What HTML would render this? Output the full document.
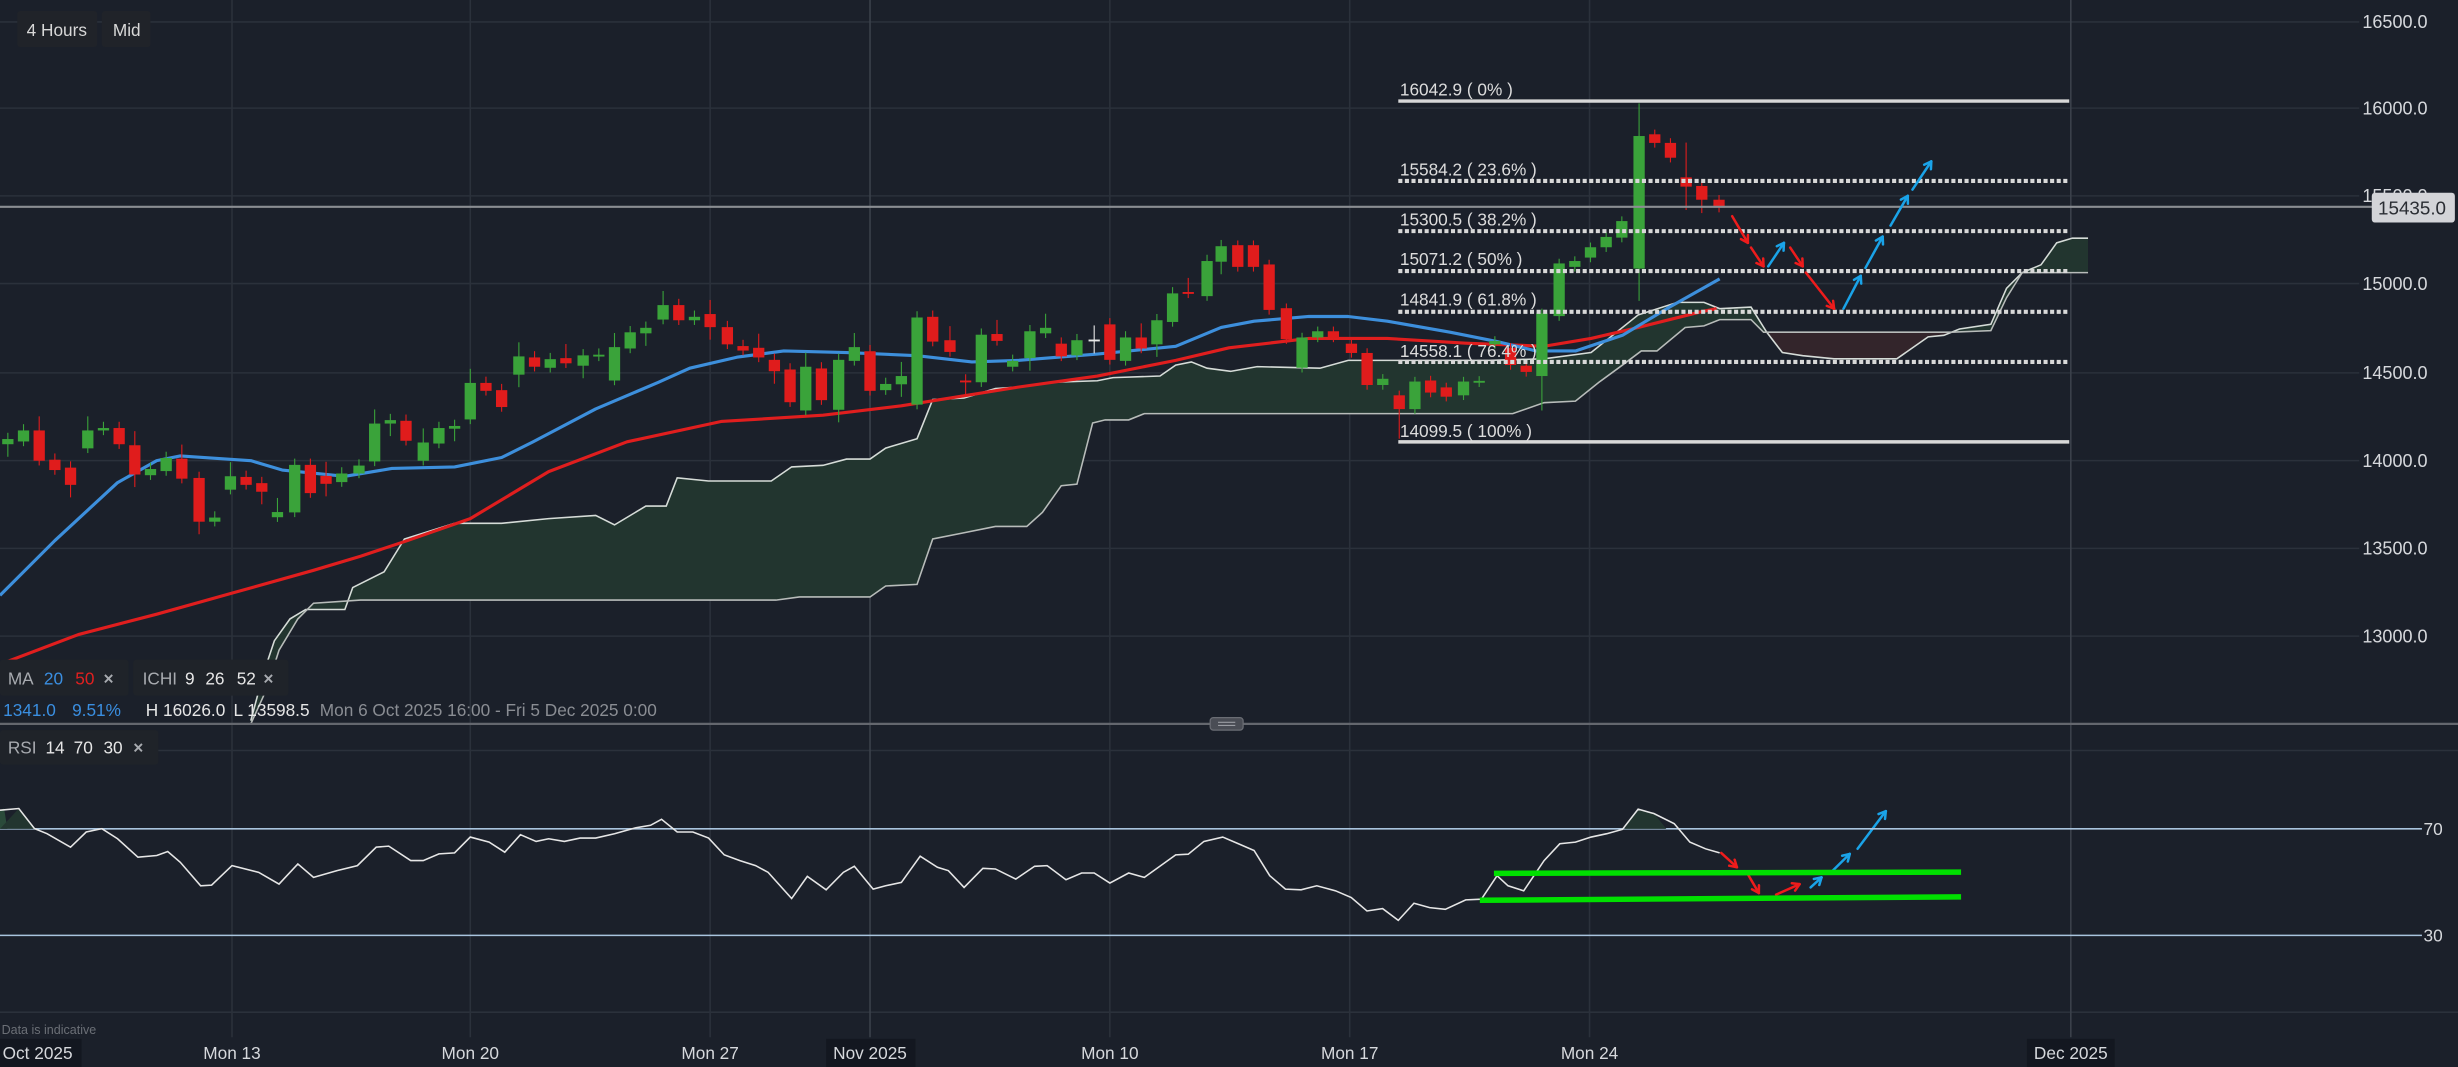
<!DOCTYPE html>
<html><head><meta charset="utf-8">
<style>
html,body{margin:0;padding:0;background:#1b202a;overflow:hidden}
svg{display:block}
text{font-family:"Liberation Sans",sans-serif}
</style></head>
<body>
<svg id="s" width="2458" height="1067" viewBox="0 0 1568 681" preserveAspectRatio="none" xmlns="http://www.w3.org/2000/svg">
<rect width="1568" height="681" fill="#1b202a"/>
<g stroke="#2b313b" stroke-width="1">
<line x1="0" y1="14" x2="1505" y2="14"/><line x1="0" y1="69" x2="1505" y2="69"/><line x1="0" y1="125" x2="1505" y2="125"/>
<line x1="0" y1="181" x2="1505" y2="181"/><line x1="0" y1="238" x2="1505" y2="238"/><line x1="0" y1="294" x2="1505" y2="294"/>
<line x1="0" y1="350" x2="1505" y2="350"/><line x1="0" y1="406" x2="1505" y2="406"/>
<line x1="0" y1="479" x2="1568" y2="479"/><line x1="0" y1="646" x2="1568" y2="646"/>
<line x1="148" y1="0" x2="148" y2="662"/><line x1="300" y1="0" x2="300" y2="662"/><line x1="453" y1="0" x2="453" y2="662"/>
<line x1="708" y1="0" x2="708" y2="662"/><line x1="861" y1="0" x2="861" y2="662"/><line x1="1014" y1="0" x2="1014" y2="662"/>
</g>
<g stroke="#3b414b" stroke-width="1"><line x1="555" y1="0" x2="555" y2="662"/><line x1="1321" y1="0" x2="1321" y2="662"/></g>
<g id="cloud"></g>
<g id="mas"></g>
<g id="candles"></g>
<!-- fib -->
<g fill="#dcdcdc" font-size="11">
<text x="893" y="61">16042.9 ( 0% )</text>
<text x="893" y="112">15584.2 ( 23.6% )</text>
<text x="893" y="144">15300.5 ( 38.2% )</text>
<text x="893" y="169">15071.2 ( 50% )</text>
<text x="893" y="195">14841.9 ( 61.8% )</text>
<text x="893" y="228">14558.1 ( 76.4% )</text>
<text x="893" y="279">14099.5 ( 100% )</text>
</g>
<g stroke="#d8d8d8">
<line x1="892" y1="64.5" x2="1320" y2="64.5" stroke-width="2.2"/>
<line x1="892" y1="282" x2="1320" y2="282" stroke-width="2.2"/>
<g stroke-width="2.6" stroke-dasharray="2.6 1.6">
<line x1="892" y1="115.5" x2="1320" y2="115.5"/><line x1="892" y1="147.5" x2="1320" y2="147.5"/>
<line x1="892" y1="173" x2="1320" y2="173"/><line x1="892" y1="199" x2="1320" y2="199"/>
<line x1="892" y1="231" x2="1320" y2="231"/></g></g>
<line x1="0" y1="132" x2="1515" y2="132" stroke="#8a8d92" stroke-width="1.3"/>
<!-- arrows -->
<g id="arrows" fill="none" stroke-width="1.6" stroke-linecap="round"></g>
<!-- right axis -->
<g fill="#d6d8dc" font-size="11.5">
<text x="1507" y="18">16500.0</text><text x="1507" y="73">16000.0</text><text x="1507" y="129">15500.0</text>
<text x="1507" y="185">15000.0</text><text x="1507" y="242">14500.0</text><text x="1507" y="298">14000.0</text>
<text x="1507" y="354">13500.0</text><text x="1507" y="410">13000.0</text>
</g>
<rect x="1513" y="123" width="53" height="19" rx="2" fill="#d3d4d8"/>
<text x="1517" y="137" font-size="12" fill="#2a2d33">15435.0</text>
<!-- top left buttons -->
<rect x="11" y="7" width="51" height="23" rx="2" fill="#202329"/>
<rect x="65" y="7" width="31" height="23" rx="2" fill="#202329"/>
<text x="17" y="23" font-size="11" fill="#d8d8d8">4 Hours</text>
<text x="72" y="23" font-size="11" fill="#d8d8d8">Mid</text>
<!-- legend -->
<rect x="0" y="421" width="82" height="23" rx="2" fill="#1f2329"/>
<rect x="85" y="421" width="99" height="23" rx="2" fill="#1f2329"/>
<g font-size="11">
<text x="5" y="437" fill="#a8abb0">MA</text><text x="28" y="437" fill="#3a8ee0">20</text><text x="48" y="437" fill="#e02020">50</text><text x="66" y="437" fill="#a8abb0" font-weight="bold">×</text>
<text x="91" y="437" fill="#a8abb0">ICHI</text><text x="118" y="437" fill="#e6e6e6">9</text><text x="131" y="437" fill="#e6e6e6">26</text><text x="151" y="437" fill="#e6e6e6">52</text><text x="168" y="437" fill="#a8abb0" font-weight="bold">×</text>
<text x="2" y="457" fill="#3a8ee0">1341.0</text><text x="46" y="457" fill="#3a8ee0">9.51%</text>
<text x="93" y="457" fill="#e6e6e6">H 16026.0</text><text x="149" y="457" fill="#e6e6e6">L 13598.5</text>
<text x="204" y="457" fill="#8a8d93">Mon 6 Oct 2025 16:00 - Fri 5 Dec 2025 0:00</text>
</g>
<line x1="0" y1="462" x2="1568" y2="462" stroke="#64676e" stroke-width="1.5"/>
<rect x="772" y="458" width="21" height="8" rx="2" fill="#4a4d55" stroke="#6a6d74" stroke-width="0.8"/>
<line x1="777" y1="461" x2="788" y2="461" stroke="#9a9da3" stroke-width="0.7"/><line x1="777" y1="463" x2="788" y2="463" stroke="#9a9da3" stroke-width="0.7"/>
<rect x="0" y="466" width="101" height="22" rx="2" fill="#1f2329"/>
<g font-size="11"><text x="5" y="481" fill="#a8abb0">RSI</text><text x="29" y="481" fill="#e6e6e6">14</text><text x="47" y="481" fill="#e6e6e6">70</text><text x="66" y="481" fill="#e6e6e6">30</text><text x="85" y="481" fill="#a8abb0" font-weight="bold">×</text></g>
<!-- RSI -->
<line x1="0" y1="529" x2="1545" y2="529" stroke="#a9c4de" stroke-width="1"/>
<line x1="0" y1="597" x2="1545" y2="597" stroke="#a9c4de" stroke-width="1"/>
<text x="1546" y="533" font-size="11" fill="#d6d8dc">70</text>
<text x="1546" y="601" font-size="11" fill="#d6d8dc">30</text>
<g id="rsi"></g>
<line x1="953" y1="557.4" x2="1251" y2="556.6" stroke="#00e000" stroke-width="3.5"/>
<line x1="944" y1="574.6" x2="1251" y2="572.4" stroke="#00e000" stroke-width="3.5"/>
<text x="1" y="660" font-size="8" fill="#6b6f76">Data is indicative</text>
<!-- x axis -->
<rect x="0" y="663" width="52" height="18" fill="#131720"/>
<rect x="527" y="663" width="57" height="18" fill="#131720"/>
<rect x="1293" y="663" width="56" height="18" fill="#131720"/>
<g font-size="11" fill="#d6d8dc" text-anchor="middle">
<text x="24" y="676">Oct 2025</text><text x="148" y="676">Mon 13</text><text x="300" y="676">Mon 20</text>
<text x="453" y="676">Mon 27</text><text x="555" y="676">Nov 2025</text><text x="708" y="676">Mon 10</text>
<text x="861" y="676">Mon 17</text><text x="1014" y="676">Mon 24</text><text x="1321" y="676">Dec 2025</text>
</g>
</svg>
<script>
const NS="http://www.w3.org/2000/svg";
function el(p,t,a){const e=document.createElementNS(NS,t);for(const k in a)e.setAttribute(k,a[k]);p.appendChild(e);return e;}
const pts=a=>a.map(p=>p.join(",")).join(" ");
// cloud
const A=[[160,460],[168,430],[175,409],[185,395],[195,389],[220,389],[225,375],[235,370],[245,365],[258,344],[290,334],[320,334],[350,331],[380,329],[392,335],[412,323],[425,323],[432,305],[452,307],[492,307],[505,298],[525,297],[540,293],[555,293],[565,286],[585,280],[595,255],[615,254],[635,248],[650,247],[670,244],[700,243],[710,241],[740,240],[750,233],[760,231],[770,235],[785,237],[802,234],[842,235],[860,230],[950,230],[985,229],[1015,225],[1045,201],[1070,193],[1087,193],[1097,197],[1117,196],[1127,212],[1137,225],[1150,227],[1170,229],[1210,229],[1230,215],[1240,214],[1250,210],[1270,207],[1280,184],[1290,174],[1302,169],[1312,155],[1322,152],[1332,152]];
const B=[[160,462],[170,440],[178,415],[190,395],[200,385],[230,383],[495,383],[510,381],[555,381],[565,374],[585,373],[595,344],[615,340],[635,336],[655,336],[665,327],[677,310],[687,309],[697,270],[705,268],[720,268],[730,264],[965,264],[985,257],[1005,256],[1020,244],[1035,233],[1047,224],[1057,224],[1075,209],[1087,208],[1097,204],[1117,204],[1125,212],[1245,212],[1270,211],[1280,190],[1290,174],[1332,174]];
const cg=document.getElementById("cloud");
el(cg,"polygon",{points:pts(A.concat(B.slice().reverse())),fill:"#22352f"});
el(cg,"polygon",{points:pts([[1125,212],[1127,212],[1137,225],[1150,227],[1170,229],[1210,229],[1230,215],[1240,214],[1245,212]]),fill:"#33252b"});
el(cg,"polyline",{points:pts(A),fill:"none",stroke:"#d6dcd8","stroke-width":1});
el(cg,"polyline",{points:pts(B),fill:"none",stroke:"#b8bcba","stroke-width":1});
// MAs
const blue=[[0,380],[35,345],[75,308],[100,294],[115,291],[160,294],[180,300],[220,304],[250,299],[290,298],[320,292],[340,282],[380,261],[420,244],[440,235],[470,228],[500,224],[540,225],[585,227],[620,231],[650,230],[700,226],[750,221],[779,209],[800,205],[835,202],[860,202],[885,205],[925,212],[955,218],[980,224],[1005,224],[1035,214],[1065,196],[1097,178]];
const red=[[0,424],[50,405],[100,392],[150,378],[200,364],[230,355],[260,345],[300,331],[350,301],[400,282],[460,269],[525,265],[575,259],[650,247],[700,240],[750,230],[784,222],[835,216],[885,216],[935,219],[985,221],[1015,216],[1045,209],[1085,199],[1095,197]];
const mg=document.getElementById("mas");
el(mg,"polyline",{points:pts(red),fill:"none",stroke:"#e01e1e","stroke-width":2,"stroke-linejoin":"round"});
el(mg,"polyline",{points:pts(blue),fill:"none",stroke:"#3d8fdc","stroke-width":2,"stroke-linejoin":"round"});
// candles: zoom coords
const z1=[[10,1275,1290,'g'],[30,1250,1282,'g'],[50,1250,1338,'r'],[70,1335,1365,'r'],[90,1358,1408,'r'],[112,1250,1302,'g'],[132,1243,1250,'g'],[152,1243,1290,'r'],[172,1293,1378,'r'],[192,1362,1380,'g'],[212,1330,1368,'g'],[232,1332,1390,'r'],[254,1388,1515,'r'],[274,1503,1515,'g'],[294,1383,1422,'g'],[314,1385,1408,'r'],[334,1403,1428,'r'],[354,1487,1502,'g'],[376,1350,1488,'g'],[396,1350,1432,'r'],[416,1382,1405,'r'],[436,1375,1400,'g'],[458,1352,1375,'g'],[478,1230,1340,'g'],[498,1220,1230,'g'],[518,1222,1280,'r'],[540,1285,1338,'g'],[560,1243,1288,'g'],[580,1237,1245,'g'],[600,1112,1218,'g'],[620,1112,1135,'r'],[640,1133,1182,'r'],[662,1035,1088,'g'],[682,1038,1065,'r'],[702,1043,1068,'g'],[722,1040,1055,'r'],[744,1032,1062,'g'],[764,1030,1035,'g'],[784,1008,1105,'g'],[804,965,1012,'g'],[824,952,968,'g'],[846,886,928,'g'],[866,886,930,'r'],[886,920,930,'g'],[906,912,950,'r'],[928,950,1000,'r'],[948,1005,1018,'r'],[968,1010,1038,'r'],[988,1045,1078,'r'],[1008,1073,1168,'r'],[1028,1065,1192,'g'],[1048,1070,1162,'r'],[1070,1045,1190,'g'],[1090,1008,1048,'g'],[1110,1020,1135,'r'],[1130,1115,1133,'g'],[1150,1092,1116,'g'],[1170,922,1175,'g'],[1190,920,992,'r'],[1212,988,1022,'r'],[1232,1105,1110,'r'],[1252,972,1110,'g'],[1272,970,990,'r'],[1292,1048,1065,'g'],[1314,962,1040,'g'],[1334,952,968,'g'],[1354,998,1035,'r'],[1374,988,1032,'g'],[1396,986,990,'w'],[1416,942,1045,'r'],[1436,980,1048,'g'],[1456,980,1012,'r'],[1476,930,1000,'g'],[1496,852,935,'g'],[1516,848,852,'r'],[1540,758,860,'g'],[1558,715,760,'g']];
const z2=[[10,712,775,'r'],[30,712,775,'r'],[50,768,900,'r'],[72,895,985,'r'],[92,980,1068,'g'],[112,962,980,'g'],[132,962,980,'r'],[155,998,1025,'r'],[175,1025,1118,'r'],[195,1100,1118,'g'],[216,1148,1188,'r'],[236,1108,1188,'g'],[256,1105,1140,'r'],[276,1125,1152,'r'],[298,1108,1148,'g'],[318,1106,1110,'g'],[338,990,1000,'g'],[358,1010,1060,'r'],[378,1062,1080,'r'],[398,910,1092,'g'],[420,765,918,'g'],[440,758,775,'g'],[460,718,748,'g'],[480,688,718,'g'],[500,642,690,'g'],[522,395,780,'g'],[542,390,415,'r'],[562,415,458,'r'],[582,515,542,'r'],[602,540,580,'r'],[624,580,603,'r']];
const cd=document.getElementById("candles");
const col={g:'#3aa33a',r:'#e01c1c',w:'#e8e8e8'};
function draw(x,t,b,c,wt,wb){
  el(cd,"line",{x1:x,y1:wt,x2:x,y2:wb,stroke:col[c],"stroke-width":0.7});
  el(cd,"rect",{x:x-3.6,y:t,width:7.2,height:Math.max(b-t,1.2),fill:col[c]});
}
let i=0;
z1.forEach(c=>{const x=c[0]/2,t=c[1]/4.55,b=c[2]/4.55;i++;const e=(i%3==0)?9:4;draw(x,t,b,c[3],t-e,b+(i%4==1?8:3));});
z2.forEach((c,k)=>{const x=784.6+c[0]/2,t=c[1]/4.55,b=c[2]/4.55;let wt=t-3,wb=b+3;
 if(c[0]==522){wt=66;wb=192;} if(c[0]==216){wb=280;} if(c[0]==398){wb=262;} if(c[0]==582){wt=91;wb=134;} if(c[0]==602){wb=136;}
 draw(x,t,b,c[3],wt,wb);});
// arrows
const ag=document.getElementById("arrows");
function arrow(x1,y1,x2,y2,c){
  el(ag,"line",{x1,y1,x2,y2,stroke:c});
  const a=Math.atan2(y2-y1,x2-x1),L=5;
  [a+2.6,a-2.6].forEach(b=>el(ag,"line",{x1:x2,y1:y2,x2:x2+L*Math.cos(b),y2:y2+L*Math.sin(b),stroke:c}));
}
const R='#ee1c1c',Bl='#1aa3e8';
arrow(1105,138,1115,155,R);arrow(1117,158,1125,170,R);arrow(1128,170,1138,155,Bl);arrow(1142,158,1150,170,R);
arrow(1152,174,1170,197,R);arrow(1176,197,1187,176,Bl);arrow(1190,171,1201,151,Bl);arrow(1206,144,1217,125,Bl);arrow(1220,121,1232,103,Bl);
arrow(1098,544.4,1108,553.5,R);arrow(1115,558,1122,570,R);arrow(1133,571,1148,564.3,R);arrow(1155,566.4,1162,560,Bl);arrow(1168,556.8,1180,545,Bl);arrow(1185,541.7,1203,517.7,Bl);
// RSI
const rz=[[0,805],[12,800],[22,860],[30,875],[45,915],[55,870],[65,860],[75,890],[88,945],[100,940],[107,928],[115,960],[128,1030],[135,1028],[148,970],[165,990],[178,1025],[190,965],[200,1005],[215,985],[228,970],[240,915],[248,912],[262,955],[270,955],[280,935],[290,932],[300,885],[312,900],[322,930],[332,878],[342,898],[350,890],[360,898],[370,888],[380,888],[392,875],[405,858],[415,850],[422,832],[432,870],[442,870],[452,888],[462,938],[472,955],[482,970],[490,990],[505,1068],[515,1002],[527,1042],[538,990],[545,972],[557,1040],[565,1030],[575,1020],[587,942],[598,975],[605,985],[615,1035],[627,978],[635,980],[648,1010],[660,972],[668,970],[680,1012],[690,992],[698,992],[708,1022],[720,992],[730,1005],[750,938],[758,936],[768,898],[780,885],[790,905],[800,925],[810,1000],[820,1040],[830,1042],[840,1030],[852,1045],[862,1065],[872,1105],[882,1098],[892,1133],[902,1082],[912,1095],[922,1100],[935,1072],[945,1070],[955,1000],[962,1030],[972,1045],[985,955],[995,905],[1005,900],[1015,885],[1025,875],[1035,862],[1045,802],[1055,815],[1068,845],[1078,900],[1088,920],[1097,932]];
const rp=rz.map(p=>[p[0],344.5+p[1]*0.2144]);
const rg=document.getElementById("rsi");
el(rg,"polygon",{points:pts([[0,529],[0,517],[2.6,516],[4.7,529]]),fill:"#2a4a3a"});
el(rg,"polygon",{points:pts([[0,529],[12,516],[22,529]]),fill:"#22352f"});
el(rg,"polygon",{points:pts([[1036,529],[1045,516.5],[1055,519],[1063,529]]),fill:"#22352f"});
el(rg,"polyline",{points:pts(rp),fill:"none",stroke:"#e6e6e6","stroke-width":1});
</script>
</body></html>
